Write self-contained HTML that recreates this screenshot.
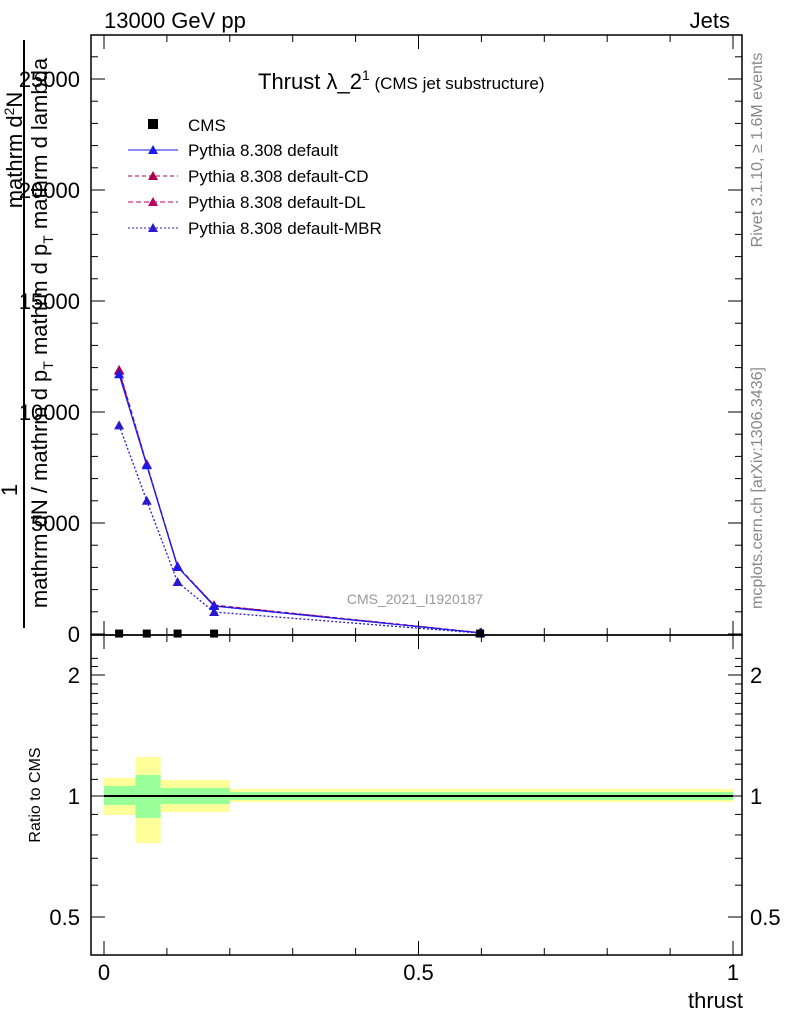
<!DOCTYPE html>
<html><head><meta charset="utf-8"><style>
body{margin:0;background:#fff;font-family:"Liberation Sans",sans-serif}
svg text{font-family:"Liberation Sans",sans-serif}
</style></head><body>
<svg id="c" width="786" height="1024" xmlns="http://www.w3.org/2000/svg">
<g id="g"></g>
</svg>
<script>
const xs=[0.024,0.068,0.117,0.175,0.598];
const cms=[20,20,20,20,20];
const ydef=[11700,7600,3020,1260,50];
const ycd=[11900,7650,3050,1300,60];
const ydl=[11850,7620,3040,1290,55];
const ymbr=[9400,6000,2340,990,40];
const binEdges=[0,0.05,0.09,0.2,1];
const yelLo=[0.897,0.764,0.912,0.966];
const yelHi=[1.109,1.25,1.096,1.041];
const grnLo=[0.95,0.882,0.955,0.977];
const grnHi=[1.059,1.128,1.047,1.023];
const yTicks=[0,5000,10000,15000,20000,25000];
const yTickLabels=["0","5000","10000","15000","20000","25000"];
const xTicks=[0,0.5,1];
const xTickLabels=["0","0.5","1"];
const rTicks=[0.5,1,2];
const rTickLabels=["0.5","1","2"];

const L=91,R=742,T=35,B=635,RB=955;
const X=v=>104+v*629;
const Y=v=>634-v*0.0222;
const RY=r=>796-121*Math.log2(r);
const NS="http://www.w3.org/2000/svg";
const g=document.getElementById('g');
function el(t,a,txt){const e=document.createElementNS(NS,t);for(const k in a)e.setAttribute(k,a[k]);if(txt!==undefined)e.textContent=txt;g.appendChild(e);return e;}

for(let i=0;i<binEdges.length-1;i++){
 let e=el('rect',{x:X(binEdges[i]),y:RY(yelHi[i]),width:X(binEdges[i+1])-X(binEdges[i]),height:RY(yelLo[i])-RY(yelHi[i]),fill:'#ffff99'});
 
 
 let f=el('rect',{x:X(binEdges[i]),y:RY(grnHi[i]),width:X(binEdges[i+1])-X(binEdges[i]),height:RY(grnLo[i])-RY(grnHi[i]),fill:'#99ff99'});
 
 
}
let rl=el('line',{x1:X(0),x2:X(1),y1:RY(1),y2:RY(1),stroke:'#000','stroke-width':2});



let f1=el('rect',{x:L,y:T,width:R-L,height:B-T,fill:'none',stroke:'#000','stroke-width':1.5});


let f2=el('rect',{x:L,y:B,width:R-L,height:RB-B,fill:'none',stroke:'#000','stroke-width':1.5});



for(let v=0;v<=27000;v+=1000){const y=Y(v);if(y<T)break;const big=v%5000==0;
 el('line',{x1:L,x2:L+(big?14:7),y1:y,y2:y,stroke:'#000'});el('line',{x1:R,x2:R-(big?14:7),y1:y,y2:y,stroke:'#000'});}
yTicks.forEach((v,i)=>{let t=el('text',{x:80,y:Y(v)+8,'text-anchor':'end','font-size':22},yTickLabels[i]);
 
 });
for(let v=0;v<=1.0001;v+=0.1){const x=X(v);const big=Math.abs(v*2-Math.round(v*2))<1e-6;
 [B,RB].forEach(yb=>{el('line',{x1:x,x2:x,y1:yb,y2:yb-(big?14:7),stroke:'#000'});});
 el('line',{x1:x,x2:x,y1:T,y2:T+(big?14:7),stroke:'#000'});el('line',{x1:x,x2:x,y1:B,y2:B+(big?14:7),stroke:'#000'});}
xTicks.forEach((v,i)=>{let t=el('text',{x:X(v),y:980,'text-anchor':'middle','font-size':22},xTickLabels[i]);
 
 });
for(let r=0.4;r<=2.3;r+=0.1){const y=RY(r);if(y<B||y>RB)continue;const big=rTicks.some(q=>Math.abs(q-r)<1e-6);
 el('line',{x1:L,x2:L+(big?14:7),y1:y,y2:y,stroke:'#000'});el('line',{x1:R,x2:R-(big?14:7),y1:y,y2:y,stroke:'#000'});}
rTicks.forEach((v,i)=>{let t=el('text',{x:80,y:RY(v)+8,'text-anchor':'end','font-size':22},rTickLabels[i]);
 
 
 let t2=el('text',{x:750,y:RY(v)+8,'font-size':22},rTickLabels[i]);
 
 });

function series(ys,color,dash,name){
 let p=el('polyline',{points:xs.map((x,i)=>X(x)+','+Y(ys[i])).join(' '),fill:'none',stroke:color,'stroke-width':1.3,'stroke-dasharray':dash});
 
 
 xs.forEach((x,i)=>{const cx=X(x),cy=Y(ys[i]);
  let m=el('polygon',{points:`${cx-5},${cy+4} ${cx+5},${cy+4} ${cx},${cy-5}`,fill:color});
  
  });
}
series(ymbr,'#2a1acc','2,2','mbr');
series(ydl,'#bb0066','5,3','default-dl');
series(ycd,'#aa0055','4,3','default-cd');
series(ydef,'#1a1aee','','default');
xs.forEach((x,i)=>{let m=el('rect',{x:X(x)-4,y:Y(cms[i])-4,width:8,height:8,fill:'#000'});
 
 });
</script>
<svg style="position:absolute;left:0;top:0" width="786" height="1024" xmlns="http://www.w3.org/2000/svg">
<text x="104" y="28" font-size="22">13000 GeV pp</text>
<text x="730" y="28" font-size="22" text-anchor="end">Jets</text>
<text x="258" y="89" font-size="22">Thrust λ_2<tspan font-size="14" dy="-9">1</tspan><tspan font-size="17" dy="9"> (CMS jet substructure)</tspan></text>
<rect x="148" y="119" width="10" height="10" fill="#000"/>
<text x="188" y="131" font-size="17">CMS</text>
<g><line x1="128" x2="178" y1="150" y2="150" stroke="#1a1aee"/><polygon points="148,154 158,154 153,145" fill="#1a1aee"/><text x="188" y="156" font-size="17">Pythia 8.308 default</text></g>
<g><line x1="128" x2="178" y1="176" y2="176" stroke="#aa0055" stroke-dasharray="4,3"/><polygon points="148,180 158,180 153,171" fill="#aa0055"/><text x="188" y="182" font-size="17">Pythia 8.308 default-CD</text></g>
<g><line x1="128" x2="178" y1="202" y2="202" stroke="#bb0066" stroke-dasharray="5,3"/><polygon points="148,206 158,206 153,197" fill="#bb0066"/><text x="188" y="208" font-size="17">Pythia 8.308 default-DL</text></g>
<g><line x1="128" x2="178" y1="228" y2="228" stroke="#2a1acc" stroke-dasharray="2,2"/><polygon points="148,232 158,232 153,223" fill="#2a1acc"/><text x="188" y="234" font-size="17">Pythia 8.308 default-MBR</text></g>
<text x="415" y="604" font-size="14" fill="#999" text-anchor="middle">CMS_2021_I1920187</text>
<text x="743" y="1008" font-size="22" text-anchor="end">thrust</text>
<text transform="translate(40,795) rotate(-90)" font-size="16" text-anchor="middle">Ratio to CMS</text>
<g transform="rotate(-90)" font-size="22" text-anchor="middle">
<text x="-490" y="17">1</text>
<text x="-150" y="22">mathrm d<tspan dy="-8" font-size="14">2</tspan><tspan dy="8">N</tspan></text>
<line x1="-628" x2="-40" y1="24" y2="24" stroke="#000" stroke-width="2"/>
<text x="-333" y="47">mathrm dN / mathrm d p<tspan dy="6" font-size="14">T</tspan><tspan dy="-6"> mathrm d p</tspan><tspan dy="6" font-size="14">T</tspan><tspan dy="-6"> mathrm d lambda</tspan></text>
</g>
<text transform="translate(762,150) rotate(-90)" font-size="16" fill="#888" text-anchor="middle">Rivet 3.1.10, ≥ 1.6M events</text>
<text transform="translate(762,488) rotate(-90)" font-size="16" fill="#888" text-anchor="middle">mcplots.cern.ch [arXiv:1306.3436]</text>
</svg>
</body></html>
